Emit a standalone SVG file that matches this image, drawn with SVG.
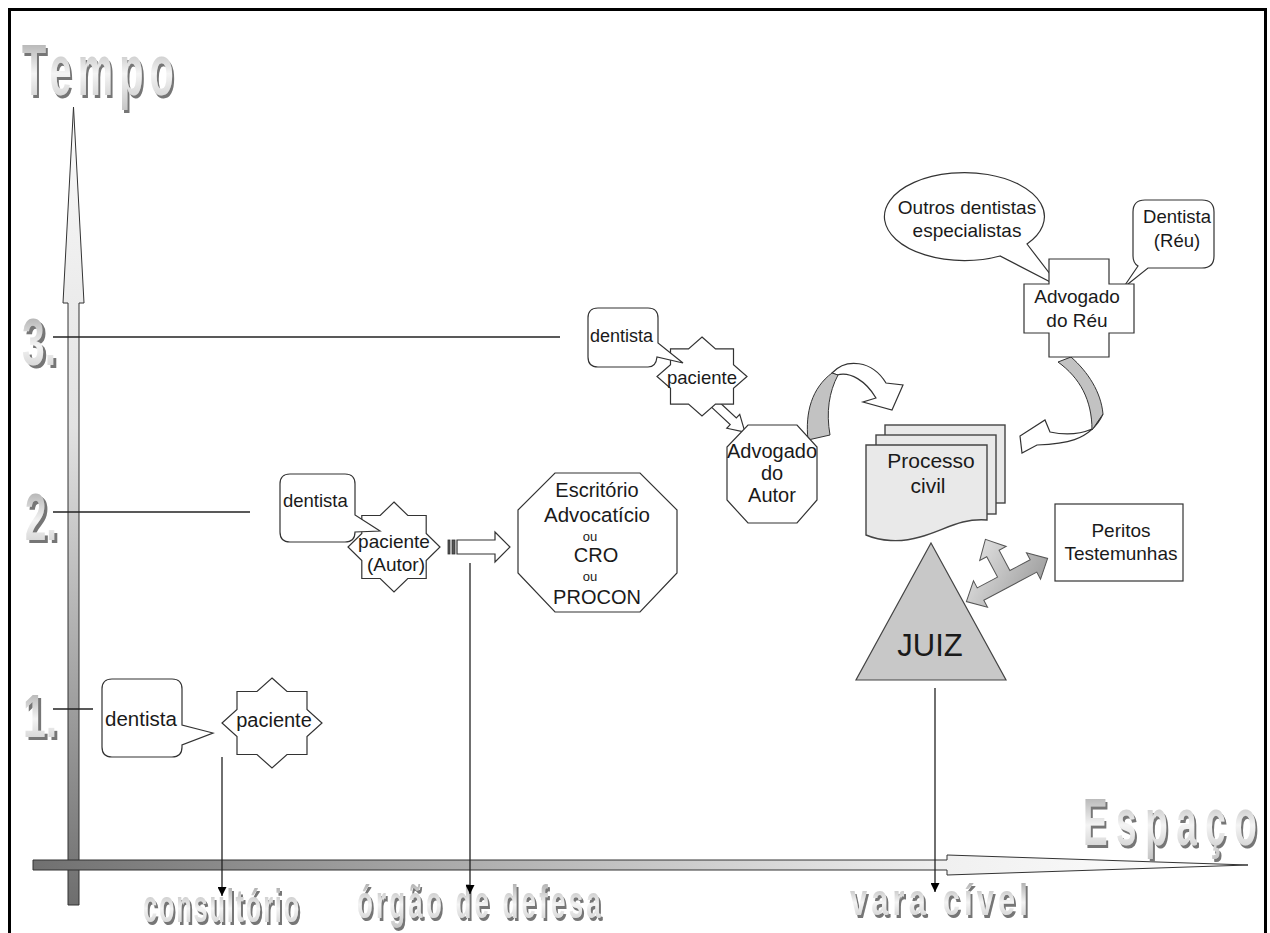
<svg xmlns="http://www.w3.org/2000/svg" width="1270" height="933" viewBox="0 0 1270 933">
<defs>
<style>
.shape{fill:#fff;stroke:#333;stroke-width:1.2}
.t{font-family:"Liberation Sans",Arial,sans-serif;fill:#1a1a1a;text-anchor:middle}
.tl{font-family:"Liberation Sans",Arial,sans-serif;fill:#1a1a1a}
.big{font-family:"Liberation Sans",Arial,sans-serif;font-weight:bold;fill:url(#gT);filter:url(#shd)}
.ln{stroke:#222;stroke-width:1.3;fill:none}
.gray{fill:#c2c2c2;stroke:#333;stroke-width:1}
.doc{fill:#e9e9e9;stroke:#444;stroke-width:1.4}
</style>
<filter id="shd" x="-10%" y="-10%" width="125%" height="130%">
<feOffset in="SourceAlpha" dx="3" dy="3" result="o"/>
<feFlood flood-color="#767676"/>
<feComposite in2="o" operator="in" result="s"/>
<feMerge><feMergeNode in="s"/><feMergeNode in="SourceGraphic"/></feMerge>
</filter>
<linearGradient id="gV" gradientUnits="userSpaceOnUse" x1="0" y1="107" x2="0" y2="905"><stop offset="0" stop-color="#fafafa"/><stop offset="0.4" stop-color="#e2e2e2"/><stop offset="1" stop-color="#6e6e6e"/></linearGradient>
<linearGradient id="gH" gradientUnits="userSpaceOnUse" x1="33" y1="0" x2="1248" y2="0"><stop offset="0" stop-color="#707070"/><stop offset="0.75" stop-color="#f0f0f0"/><stop offset="1" stop-color="#ffffff"/></linearGradient>
<linearGradient id="gT" x1="0" y1="0" x2="0" y2="1"><stop offset="0" stop-color="#9a9a9a"/><stop offset="0.55" stop-color="#f4f4f4"/><stop offset="1" stop-color="#c6c6c6"/></linearGradient>
<linearGradient id="g3" x1="0" y1="0" x2="1" y2="1"><stop offset="0" stop-color="#f2f2f2"/><stop offset="1" stop-color="#9a9a9a"/></linearGradient>
<marker id="ah" viewBox="0 0 10 10" refX="10" refY="5" markerWidth="9" markerHeight="9" markerUnits="userSpaceOnUse" orient="auto"><path d="M0,0 L10,5 L0,10 Z" fill="#000"/></marker>
</defs>

<rect x="0" y="0" width="1270" height="933" fill="#fff"/>
<rect x="9.5" y="9.5" width="1256" height="940" fill="none" stroke="#000" stroke-width="3"/>

<!-- axes -->
<g id="axes">
<path d="M68,905 V303 H63 L73.5,107 L84,303 H79 V905 Z" fill="url(#gV)" stroke="#333" stroke-width="1"/>
<path d="M33,860 H947 V855 L1248,865 L947,875 V870 H33 Z" fill="url(#gH)" stroke="#333" stroke-width="1"/>
</g>

<!-- stylised labels -->
<g id="labels">
<text class="big" transform="translate(22,95) scale(0.55,1)" font-size="72" textLength="276" lengthAdjust="spacing">Tempo</text>
<text class="big" transform="translate(1083,845) scale(0.55,1)" font-size="67" textLength="316" lengthAdjust="spacing">Espaço</text>
<text class="big" x="22" y="365" font-size="66" textLength="34" lengthAdjust="spacingAndGlyphs">3.</text>
<text class="big" x="25" y="540" font-size="66" textLength="32" lengthAdjust="spacingAndGlyphs">2.</text>
<text class="big" x="23" y="737" font-size="62" textLength="34" lengthAdjust="spacingAndGlyphs">1.</text>
<text class="big" transform="translate(143,922) scale(0.55,1)" font-size="46" textLength="284" lengthAdjust="spacing">consultório</text>
<text class="big" transform="translate(357,918) scale(0.55,1)" font-size="47" textLength="443" lengthAdjust="spacing">órgão de defesa</text>
<text class="big" transform="translate(850,915) scale(0.7,1)" font-size="44" textLength="254" lengthAdjust="spacing">vara cível</text>
</g>

<!-- connectors -->
<g id="connectors">
<line class="ln" x1="53" y1="337" x2="560" y2="337"/>
<line class="ln" x1="53" y1="512" x2="250" y2="512"/>
<line class="ln" x1="53" y1="709" x2="93" y2="709"/>
<line class="ln" x1="222" y1="757" x2="222" y2="896" marker-end="url(#ah)"/>
<line class="ln" x1="470" y1="563" x2="470" y2="894" marker-end="url(#ah)"/>
<line class="ln" x1="935" y1="688" x2="935" y2="892" marker-end="url(#ah)"/>
<g id="striped-arrow-2">
<rect x="448" y="540" width="2" height="14" fill="#555" stroke="#333" stroke-width="0.8"/>
<rect x="452" y="540" width="3" height="14" fill="#555" stroke="#333" stroke-width="0.8"/>
<path class="shape" d="M457,540 H495 V532 L510,547 L495,562 V554 H457 Z"/>
</g>
<g id="striped-arrow-3" transform="translate(704,394) rotate(43)">
<rect x="0" y="-4.5" width="2" height="9" fill="#555" stroke="#333" stroke-width="0.8"/>
<rect x="3.5" y="-4.5" width="2.5" height="9" fill="#555" stroke="#333" stroke-width="0.8"/>
<path class="shape" d="M7,-4.5 H40 V-9.5 L56,0 L40,9.5 V4.5 H7 Z"/>
</g>
<g id="curved-arrow-1">
<path class="shape" d="M832,373 C846,358 872,360 886,383 L903,385 L892,410 L863,402 L876,398 C866,381 850,371 837,375 Z"/>
<path class="gray" d="M808,440 C805,412 812,388 832,373 L838,375 C829,392 826,412 830,435 Z"/>
</g>
<g id="curved-arrow-2">
<path class="shape" d="M1092,429 C1078,435 1064,435 1050,432 L1045,420 L1020,436 L1022,453 L1037,445 C1062,444 1090,442 1103,414 Z"/>
<path class="gray" d="M1058,362 C1080,378 1092,400 1092,430 L1103,414 C1101,392 1088,372 1071,357 Z"/>
</g>
<path id="three-way-arrow" transform="translate(1007,580) rotate(-28)" fill="url(#g3)" stroke="#555" stroke-width="1" d="M-46,0 L-30,-15 L-30,-7 L-7,-7 L-7,-30 L-15,-30 L0,-46 L15,-30 L7,-30 L7,-7 L30,-7 L30,-15 L46,0 L30,15 L30,7 L-30,7 L-30,15 Z"/>
</g>

<!-- level 1 -->
<g id="paciente-1">
<polygon class="shape" points="272,678 287,691.5 307,691.5 307,709.5 322,723 307,736.5 307,754.5 287,754.5 272,768 257,754.5 237,754.5 237,736.5 222,723 237,709.5 237,691.5 257,691.5"/>
<text class="t" x="274" y="727" font-size="20">paciente</text>
</g>
<g id="dentista-1">
<path class="shape" d="M112,679 H172 Q182,679 182,689 V725 L213,733 L182,745 V747 Q182,757 172,757 H112 Q102,757 102,747 V689 Q102,679 112,679 Z"/>
<text class="tl" x="105" y="726" font-size="20.5">dentista</text>
</g>

<!-- level 2 -->
<g id="paciente-2">
<polygon class="shape" points="394,502 407.8,515.5 426.2,515.5 426.2,533.5 440,547 426.2,560.5 426.2,578.5 407.8,578.5 394,592 380.2,578.5 361.8,578.5 361.8,560.5 348,547 361.8,533.5 361.8,515.5 380.2,515.5"/>
<text class="t" x="394" y="548" font-size="19">paciente</text>
<text class="t" x="396" y="571" font-size="19">(Autor)</text>
</g>
<g id="dentista-2">
<path class="shape" d="M290,474 H345 Q355,474 355,484 V515 L380,531 L355,532 Q355,542 345,542 H290 Q280,542 280,532 V484 Q280,474 290,474 Z"/>
<text class="tl" x="283" y="507" font-size="18.5">dentista</text>
</g>
<g id="escritorio">
<polygon class="shape" points="555,473 640,473 677,510 677,573 640,612 555,612 518,573 518,510"/>
<text class="t" x="597" y="497" font-size="20">Escritório</text>
<text class="t" x="597" y="522" font-size="20.5">Advocatício</text>
<text class="t" x="590" y="541" font-size="13">ou</text>
<text class="t" x="596" y="562" font-size="20">CRO</text>
<text class="t" x="590" y="581" font-size="13">ou</text>
<text class="t" x="597" y="604" font-size="20">PROCON</text>
</g>

<!-- level 3 -->
<g id="paciente-3">
<polygon class="shape" points="702,337 715.5,348.85 733.5,348.85 733.5,364.65 747,376.5 733.5,388.35 733.5,404.15 715.5,404.15 702,416 688.5,404.15 670.5,404.15 670.5,388.35 657,376.5 670.5,364.65 670.5,348.85 688.5,348.85"/>
<text class="t" x="702" y="384" font-size="18.5">paciente</text>
</g>
<g id="dentista-3">
<path class="shape" d="M598,308 H648 Q658,308 658,318 V343 L683,363 L657,357 Q656,367 648,367 H598 Q588,367 588,357 V318 Q588,308 598,308 Z"/>
<text class="tl" x="590" y="342" font-size="18">dentista</text>
</g>
<g id="advogado-autor">
<polygon class="shape" points="748,425 797,425 817,447 817,500 797,523 748,523 727,500 727,447"/>
<text class="t" x="772" y="458" font-size="20">Advogado</text>
<text class="t" x="772" y="480" font-size="20">do</text>
<text class="t" x="772" y="502" font-size="20">Autor</text>
</g>

<!-- right side -->
<g id="outros-dentistas">
<path class="shape" d="M1027,244 A80,44 0 1,0 1000,256 L1060,287 Z"/>
<text class="t" x="967" y="214" font-size="19">Outros dentistas</text>
<text class="t" x="967" y="237" font-size="19">especialistas</text>
</g>
<g id="dentista-reu">
<path class="shape" d="M1145,200 H1202 Q1214,200 1214,212 V256 Q1214,268 1202,268 H1148 L1123,288 L1138,266 Q1133,263 1133,256 V212 Q1133,200 1145,200 Z"/>
<text class="t" x="1177" y="223" font-size="18.5">Dentista</text>
<text class="t" x="1177" y="247" font-size="18.5">(Réu)</text>
</g>
<g id="advogado-reu">
<path class="shape" d="M1049,259 H1109 V284 H1134 V333 H1109 V357 H1049 V333 H1024 V284 H1049 Z"/>
<text class="t" x="1077" y="303" font-size="19">Advogado</text>
<text class="t" x="1077" y="327" font-size="19">do Réu</text>
</g>
<g id="processo-civil">
<rect class="doc" x="885" y="425" width="120" height="78"/>
<rect class="doc" x="876" y="435" width="120" height="79"/>
<path class="doc" d="M866,445 H987 V520 C960,518 945,530 920,537 C900,543 880,541 866,535 Z"/>
<text class="t" x="931" y="468" font-size="21">Processo</text>
<text class="t" x="928" y="493" font-size="21">civil</text>
</g>
<g id="peritos">
<rect class="shape" x="1055" y="504" width="128" height="77"/>
<text class="t" x="1121" y="537" font-size="19">Peritos</text>
<text class="t" x="1121" y="560" font-size="19">Testemunhas</text>
</g>
<g id="juiz">
<polygon points="931,543 1006,680 856,680" fill="#c8c8c8" stroke="#444" stroke-width="1.2"/>
<text class="t" x="930" y="656" font-size="31">JUIZ</text>
</g>
</svg>
